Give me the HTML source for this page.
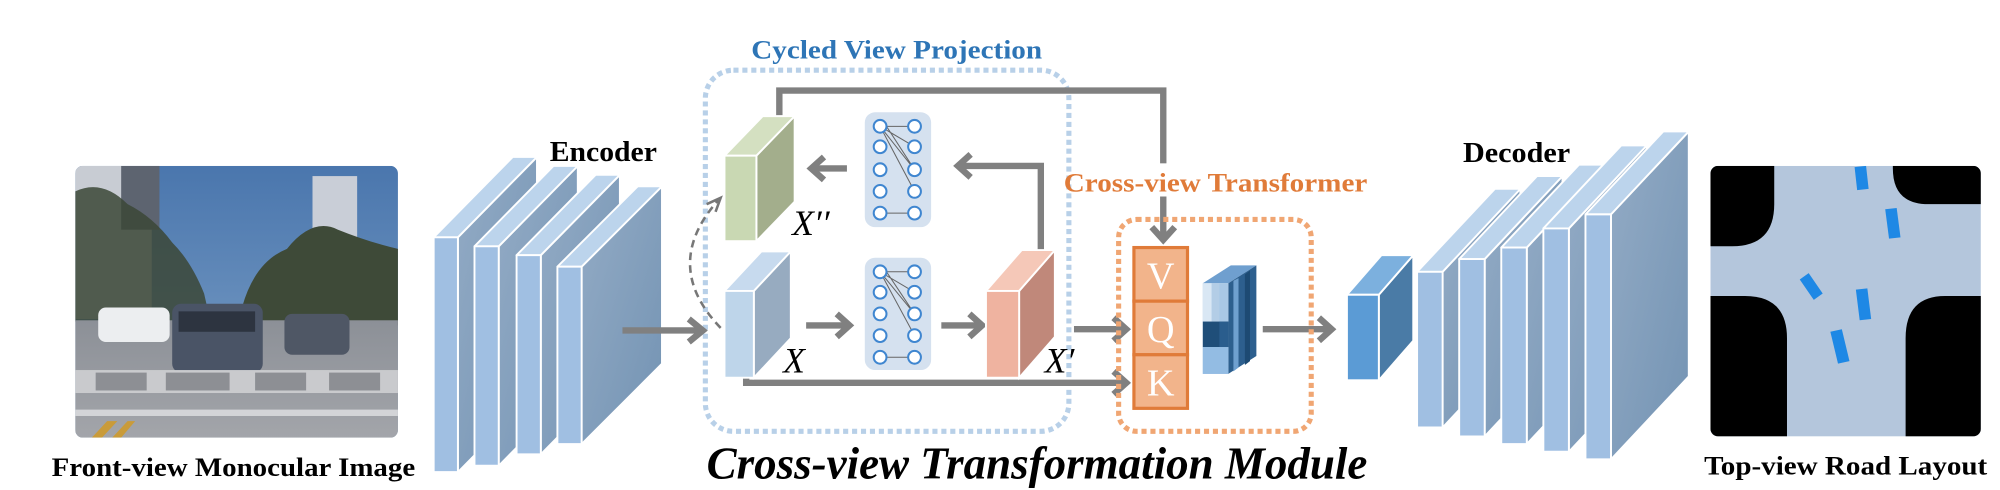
<!DOCTYPE html>
<html><head><meta charset="utf-8"><style>
html,body{margin:0;padding:0;background:#fff;width:2000px;height:490px;overflow:hidden}
svg{display:block}
text{font-family:"Liberation Serif",serif}
</style></head><body>
<svg width="2000" height="490" viewBox="0 0 1568 384" preserveAspectRatio="none" xmlns="http://www.w3.org/2000/svg">
<defs>
<linearGradient id="sky" x1="0" y1="0" x2="0" y2="1"><stop offset="0" stop-color="#4a76ad"/><stop offset="1" stop-color="#7fa2c8"/></linearGradient>
<linearGradient id="road" x1="0" y1="0" x2="0" y2="1"><stop offset="0" stop-color="#8c9097"/><stop offset="1" stop-color="#a3a5aa"/></linearGradient>
<linearGradient id="side" x1="0" y1="0" x2="1" y2="1"><stop offset="0" stop-color="#93abc5"/><stop offset="1" stop-color="#7393b3"/></linearGradient>
<clipPath id="pc"><rect x="59" y="130" width="253" height="213" rx="6"/></clipPath>
<clipPath id="rc"><rect x="1341" y="130" width="212" height="212" rx="6"/></clipPath>
</defs>

<!-- photo -->
<g clip-path="url(#pc)">
<rect x="59" y="130" width="253" height="213" fill="url(#sky)"/>
<rect x="59" y="130" width="60" height="120" fill="#c8ccd3"/>
<rect x="95" y="130" width="30" height="50" fill="#5d6470"/>
<path d="M59 150 Q80 140 100 160 Q120 170 135 190 Q150 205 160 230 L165 252 L59 252 Z" fill="#3b4636" opacity="0.85"/>
<rect x="245" y="138" width="35" height="100" fill="#c9ced7"/>
<path d="M190 240 Q200 205 225 195 Q245 170 265 180 Q290 190 312 195 L312 255 L190 255 Z" fill="#3e4a38"/>
<rect x="59" y="251" width="253" height="92" fill="url(#road)"/>
<rect x="77" y="241" width="56" height="27" rx="6" fill="#eceef0"/>
<rect x="135" y="238" width="71" height="54" rx="7" fill="#4a5466"/>
<rect x="140" y="244" width="60" height="16" fill="#2d3440"/>
<rect x="223" y="246" width="51" height="32" rx="6" fill="#4f5765"/>
<rect x="59" y="290" width="253" height="18" fill="#c9cacd"/>
<rect x="75" y="292" width="40" height="14" fill="#8d8f94"/><rect x="130" y="292" width="50" height="14" fill="#8d8f94"/><rect x="200" y="292" width="40" height="14" fill="#8d8f94"/><rect x="258" y="292" width="40" height="14" fill="#8d8f94"/>
<rect x="59" y="321" width="253" height="5" fill="#d3d4d7"/>
<path d="M72 343 L84 330 L92 330 L80 343Z M88 343 L100 330 L106 330 L95 343Z" fill="#c99b3a"/>
</g>
<text x="183" y="373" font-size="21" font-weight="bold" text-anchor="middle" textLength="285" lengthAdjust="spacingAndGlyphs">Front-view Monocular Image</text>

<!-- encoder slabs -->
<g stroke="#fff" stroke-width="1.5" stroke-linejoin="round">
<polygon points="359,186 421,123 421,307 359,370" fill="url(#side)"/><polygon points="340,186 359,186 421,123 402,123" fill="#bcd4ec"/><rect x="340" y="186" width="19" height="184" fill="#a0bfe2"/>
<polygon points="391,193 453,130 453,302 391,365" fill="url(#side)"/><polygon points="372,193 391,193 453,130 434,130" fill="#bcd4ec"/><rect x="372" y="193" width="19" height="172" fill="#a0bfe2"/>
<polygon points="424,200 486,137 486,293 424,356" fill="url(#side)"/><polygon points="405,200 424,200 486,137 467,137" fill="#bcd4ec"/><rect x="405" y="200" width="19" height="156" fill="#a0bfe2"/>
<polygon points="456,209 519,146 519,285 456,348" fill="url(#side)"/><polygon points="437,209 456,209 519,146 500,146" fill="#bcd4ec"/><rect x="437" y="209" width="19" height="139" fill="#a0bfe2"/>
</g>
<text x="473" y="126" font-size="22" font-weight="bold" text-anchor="middle" textLength="84" lengthAdjust="spacingAndGlyphs">Encoder</text>

<!-- cycled view box -->
<rect x="553" y="55" width="285" height="283" rx="22" fill="none" stroke="#b8d0e8" stroke-width="4" stroke-dasharray="4 3"/>
<text x="703" y="46" font-size="21" font-weight="bold" fill="#2e75b6" text-anchor="middle" textLength="228" lengthAdjust="spacingAndGlyphs">Cycled View Projection</text>

<!-- arrows gray -->
<g stroke="#808080" stroke-width="5" fill="none" stroke-linejoin="miter">
<line x1="488" y1="259" x2="549" y2="259"/><polyline points="540,250 551,259 540,268"/>
<polyline points="611,95 611,71 912,71 912,186"/><polyline points="903,178 912,188 921,178"/>
<line x1="664" y1="132" x2="637" y2="132"/><polyline points="646,123 636,132 646,141"/>
<polyline points="816,196 816,130 752,130"/><polyline points="761,121 751,130 761,139"/>
<line x1="632" y1="255" x2="664" y2="255"/><polyline points="656,246 666,255 656,264"/>
<line x1="738" y1="255" x2="768" y2="255"/><polyline points="760,246 770,255 760,264"/>
<line x1="842" y1="258" x2="882" y2="258"/><polyline points="873,249 883,258 873,267"/>
<polyline points="585,294 585,300 882,300"/><polyline points="873,291 883,300 873,309"/>
<line x1="990" y1="258" x2="1043" y2="258"/><polyline points="1034,249 1044,258 1034,267"/>
</g>
<path d="M565 257 Q518 208 563 157" fill="none" stroke="#777" stroke-width="2" stroke-dasharray="6 4"/>
<polyline points="554,160 565,155 561,166" fill="none" stroke="#777" stroke-width="2"/>

<!-- blocks -->
<g stroke="#fff" stroke-width="1.5">
<polygon points="593,122 623,91 623,158 593,189" fill="#a3ae8c"/><polygon points="568,122 593,122 623,91 598,91" fill="#d4e0c1"/><rect x="568" y="122" width="25" height="67" fill="#c9d8b3"/>
<polygon points="591,228 620,197 620,265 591,296" fill="#97abc0"/><polygon points="568,228 591,228 620,197 597,197" fill="#c7daee"/><rect x="568" y="228" width="23" height="68" fill="#bed5ea"/>
<polygon points="799,228 827,196 827,264 799,296" fill="#c0887a"/><polygon points="773,228 799,228 827,196 801,196" fill="#f5c8b8"/><rect x="773" y="228" width="26" height="68" fill="#efb3a0"/>
</g>
<text x="621" y="184" font-size="28" font-style="italic">X′′</text>
<text x="614" y="292" font-size="28" font-style="italic">X</text>
<text x="819" y="292" font-size="28" font-style="italic">X′</text>

<!-- NN icons -->
<g>
<rect x="678" y="88" width="52" height="90" rx="8" fill="#d5e1ef"/>
<rect x="678" y="202" width="52" height="88" rx="8" fill="#d5e1ef"/>
<g stroke="#666" stroke-width="0.8" fill="none">
<path d="M690 99L717 99M690 99L717 115M690 99L717 133M690 99L717 150M695 99L717 133M690 167L717 167"/>
<path d="M690 213L717 213M690 213L717 229M690 213L717 246M690 213L717 263M695 213L717 246M690 280L717 280"/>
</g>
<g fill="#fff" stroke="#3f86d0" stroke-width="1.6">
<circle cx="690" cy="99" r="5"/><circle cx="690" cy="115" r="5"/><circle cx="690" cy="133" r="5"/><circle cx="690" cy="150" r="5"/><circle cx="690" cy="167" r="5"/>
<circle cx="717" cy="99" r="5"/><circle cx="717" cy="115" r="5"/><circle cx="717" cy="133" r="5"/><circle cx="717" cy="150" r="5"/><circle cx="717" cy="167" r="5"/>
<circle cx="690" cy="213" r="5"/><circle cx="690" cy="229" r="5"/><circle cx="690" cy="246" r="5"/><circle cx="690" cy="263" r="5"/><circle cx="690" cy="280" r="5"/>
<circle cx="717" cy="213" r="5"/><circle cx="717" cy="229" r="5"/><circle cx="717" cy="246" r="5"/><circle cx="717" cy="263" r="5"/><circle cx="717" cy="280" r="5"/>
</g>
</g>

<!-- cross-view transformer -->
<rect x="877" y="172" width="151" height="166" rx="14" fill="none" stroke="#f0a673" stroke-width="4" stroke-dasharray="4 3"/>
<rect x="840" y="128" width="230" height="26" fill="#fff"/>
<text x="953" y="150" font-size="21" font-weight="bold" fill="#e07b39" text-anchor="middle" textLength="238" lengthAdjust="spacingAndGlyphs">Cross-view Transformer</text>
<g stroke="#e07b39" stroke-width="2.5" fill="#f2b48b">
<rect x="889" y="194" width="42" height="42"/><rect x="889" y="236" width="42" height="42"/><rect x="889" y="278" width="42" height="42"/>
</g>
<g fill="#fff" font-size="30" text-anchor="middle">
<text x="910" y="226" font-family="Liberation Sans,sans-serif">V</text><text x="910" y="268" font-family="Liberation Sans,sans-serif">Q</text><text x="910" y="310" font-family="Liberation Sans,sans-serif">K</text>
</g>
<!-- heatmap cube -->
<polygon points="943,222 963,222 985,208 965,208" fill="#6f9fcf"/>
<polygon points="963,222 985,208 985,279 963,293" fill="#2d5f8e"/>
<rect x="943" y="222" width="20" height="71" fill="#a9c8e6"/>
<rect x="943" y="222" width="7" height="30" fill="#d9e7f4"/><rect x="950" y="222" width="6" height="30" fill="#b3cde6"/>
<rect x="943" y="252" width="20" height="20" fill="#1f4e79"/><rect x="956" y="252" width="7" height="20" fill="#2a5d8d"/>
<rect x="943" y="272" width="20" height="21" fill="#93bce3"/>
<polygon points="967,220 971,218 971,288 967,291" fill="#6fa0cf"/><polygon points="976,215 980,212 980,283 976,286" fill="#1d4a73"/>

<!-- decoder small block -->
<g stroke="#fff" stroke-width="1.5">
<polygon points="1081,231 1108,200 1108,267 1081,298" fill="#4a7ba6"/><polygon points="1056,231 1081,231 1108,200 1083,200" fill="#7cb0de"/><rect x="1056" y="231" width="25" height="67" fill="#5b9bd5"/>
</g>
<!-- decoder slabs -->
<g stroke="#fff" stroke-width="1.5" stroke-linejoin="round">
<polygon points="1131,213 1192,148 1192,270 1131,335" fill="url(#side)"/><polygon points="1111,213 1131,213 1192,148 1172,148" fill="#bcd4ec"/><rect x="1111" y="213" width="20" height="122" fill="#a0bfe2"/>
<polygon points="1164,203 1225,138 1225,277 1164,342" fill="url(#side)"/><polygon points="1144,203 1164,203 1225,138 1205,138" fill="#bcd4ec"/><rect x="1144" y="203" width="20" height="139" fill="#a0bfe2"/>
<polygon points="1197,194 1258,129 1258,283 1197,348" fill="url(#side)"/><polygon points="1177,194 1197,194 1258,129 1238,129" fill="#bcd4ec"/><rect x="1177" y="194" width="20" height="154" fill="#a0bfe2"/>
<polygon points="1230,179 1291,114 1291,289 1230,354" fill="url(#side)"/><polygon points="1210,179 1230,179 1291,114 1271,114" fill="#bcd4ec"/><rect x="1210" y="179" width="20" height="175" fill="#a0bfe2"/>
<polygon points="1263,168 1324,103 1324,295 1263,360" fill="url(#side)"/><polygon points="1243,168 1263,168 1324,103 1304,103" fill="#bcd4ec"/><rect x="1243" y="168" width="20" height="192" fill="#a0bfe2"/>
</g>
<text x="1189" y="127" font-size="22" font-weight="bold" text-anchor="middle" textLength="84" lengthAdjust="spacingAndGlyphs">Decoder</text>

<!-- road layout -->
<g clip-path="url(#rc)">
<rect x="1341" y="130" width="212" height="212" fill="#b4c6dc"/>
<path d="M1341 130 L1391 130 L1391 160 Q1391 193 1358 193 L1341 193 Z" fill="#000"/>
<path d="M1484 130 L1553 130 L1553 160 L1512 160 Q1484 160 1484 132 Z" fill="#000"/>
<path d="M1341 232 L1368 232 Q1401 232 1401 265 L1401 342 L1341 342 Z" fill="#000"/>
<path d="M1553 232 L1525 232 Q1494 232 1494 265 L1494 342 L1553 342 Z" fill="#000"/>
<g fill="#1e88e5">
<polygon points="1454,131 1463,130 1465,148 1456,149"/>
<polygon points="1478,164 1487,163 1490,186 1481,187"/>
<polygon points="1411,219 1418,214 1429,230 1422,235"/>
<polygon points="1455,227 1464,226 1467,250 1458,251"/>
<polygon points="1435,260 1444,258 1450,283 1441,285"/>
</g>
</g>
<text x="1447" y="372" font-size="21" font-weight="bold" text-anchor="middle" textLength="222" lengthAdjust="spacingAndGlyphs">Top-view Road Layout</text>

<text x="813" y="375" font-size="36" font-weight="bold" font-style="italic" text-anchor="middle" textLength="518" lengthAdjust="spacingAndGlyphs">Cross-view Transformation Module</text>
</svg>
</body></html>
